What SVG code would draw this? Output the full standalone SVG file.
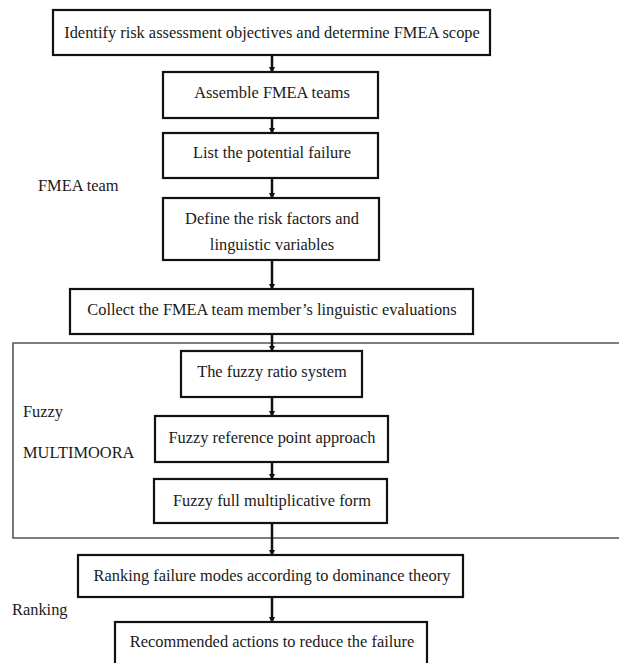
<svg xmlns="http://www.w3.org/2000/svg" width="619" height="663" viewBox="0 0 619 663">
<defs>
<style>
.box{fill:#fff;stroke:#111;stroke-width:2.2}
.t{font-family:"Liberation Serif","Times New Roman",serif;font-size:16.4px;fill:#1a1a1a;text-anchor:middle;dominant-baseline:central}
.l{font-family:"Liberation Serif","Times New Roman",serif;font-size:16.4px;fill:#1a1a1a;dominant-baseline:central}
.c{stroke:#111;stroke-width:2.5;fill:none;marker-end:url(#ah)}
</style>
<marker id="ah" markerWidth="6" markerHeight="6" refX="5" refY="3" orient="auto" markerUnits="userSpaceOnUse">
<path d="M0,0 L6,3 L0,6 Z" fill="#111"/>
</marker>
</defs>
<rect width="619" height="663" fill="#fff"/>
<g id="frame">
<path d="M619,343 H13 V538 H619" fill="none" stroke="#555" stroke-width="1.6"/>
</g>
<g id="connectors">
<line class="c" x1="272" y1="55" x2="272" y2="72"/>
<line class="c" x1="272" y1="118" x2="272" y2="133"/>
<line class="c" x1="272" y1="178" x2="272" y2="198"/>
<line class="c" x1="272" y1="260" x2="272" y2="289"/>
<line class="c" x1="272" y1="334" x2="272" y2="351"/>
<line class="c" x1="272" y1="397" x2="272" y2="416"/>
<line class="c" x1="272" y1="462" x2="272" y2="479"/>
<line class="c" x1="272" y1="523" x2="272" y2="555"/>
<line class="c" x1="272" y1="597" x2="272" y2="622"/>
</g>
<g id="n1"><rect class="box" x="53" y="10" width="437" height="45"/><text class="t" x="272" y="32">Identify risk assessment objectives and determine FMEA scope</text></g>
<g id="n2"><rect class="box" x="163" y="72" width="215" height="46"/><text class="t" x="272" y="92">Assemble FMEA teams</text></g>
<g id="n3"><rect class="box" x="163" y="133" width="215" height="45"/><text class="t" x="272" y="152">List the potential failure</text></g>
<g id="n4"><rect class="box" x="163" y="198" width="216" height="62"/><text class="t" x="272" y="218">Define the risk factors and</text><text class="t" x="272" y="244">linguistic variables</text></g>
<g id="n5"><rect class="box" x="70" y="289" width="403" height="45"/><text class="t" x="272" y="309">Collect the FMEA team member’s linguistic evaluations</text></g>
<g id="n6"><rect class="box" x="181" y="351" width="181" height="46"/><text class="t" x="272" y="371">The fuzzy ratio system</text></g>
<g id="n7"><rect class="box" x="155" y="416" width="233" height="46"/><text class="t" x="272" y="437">Fuzzy reference point approach</text></g>
<g id="n8"><rect class="box" x="154" y="479" width="233" height="44"/><text class="t" x="272" y="500">Fuzzy full multiplicative form</text></g>
<g id="n9"><rect class="box" x="78" y="555" width="385" height="42"/><text class="t" x="272" y="575">Ranking failure modes according to dominance theory</text></g>
<g id="n10"><rect class="box" x="115" y="622" width="312" height="50"/><text class="t" x="272" y="641">Recommended actions to reduce the failure</text></g>
<g id="labels">
<text class="l" x="38" y="185">FMEA team</text>
<text class="l" x="23" y="411">Fuzzy</text>
<text class="l" x="23" y="452">MULTIMOORA</text>
<text class="l" x="12" y="609">Ranking</text>
</g>
</svg>
